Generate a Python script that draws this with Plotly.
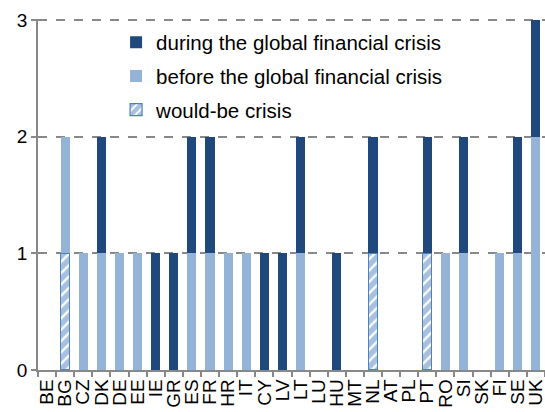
import plotly.graph_objects as go

countries = ["BE","BG","CZ","DK","DE","EE","IE","GR","ES","FR","HR","IT","CY","LV",
             "LT","LU","HU","MT","NL","AT","PL","PT","RO","SI","SK","FI","SE","UK"]
would_be = [0,1,0,0,0,0,0,0,0,0,0,0,0,0, 0,0,0,0,1,0,0,1,0,0,0,0,0,0]
before   = [0,1,1,1,1,1,0,0,1,1,1,1,0,0, 1,0,0,0,0,0,0,0,1,1,0,1,1,2]
during   = [0,0,0,1,0,0,1,1,1,1,0,0,1,1, 1,0,1,0,1,0,0,1,0,1,0,0,1,1]

FONT = "Liberation Sans, Arial, sans-serif"


def nz(vals):
    # hide empty segments so no outline stub is drawn at the baseline
    return [v if v else None for v in vals]


fig = go.Figure()
fig.add_trace(go.Bar(
    x=countries, y=nz(would_be), name="would-be crisis", legendgroup="c", legendrank=3,
    marker=dict(color="white", line=dict(color="#4F81BD", width=1.2),
                pattern=dict(shape="/", fgcolor="#4F81BD", bgcolor="white",
                             size=8, solidity=0.72)),
))
fig.add_trace(go.Bar(
    x=countries, y=nz(before), name="before the global financial crisis", legendgroup="b",
    legendrank=2,
    marker=dict(color="#95B3D7", line=dict(width=0)),
))
fig.add_trace(go.Bar(
    x=countries, y=nz(during), name="during the global financial crisis", legendgroup="a",
    legendrank=1,
    marker=dict(color="#1F497D", line=dict(width=0)),
))

fig.update_layout(
    width=545, height=412,
    barmode="stack", bargap=0.5,
    margin=dict(l=38, r=0, t=19, b=42),
    paper_bgcolor="white", plot_bgcolor="white",
    font=dict(family=FONT, size=19, color="black"),
    legend=dict(x=0.154, y=0.99, xanchor="left", yanchor="top",
                traceorder="grouped", tracegroupgap=4,
                bgcolor="rgba(0,0,0,0)", font=dict(size=20.5),
                itemwidth=30),
    showlegend=True,
)
fig.update_xaxes(
    type="category", tickangle=-90, showgrid=False,
    tickmode="array", tickvals=countries, ticktext=countries,
    showline=True, linecolor="#888888", linewidth=1.5,
    ticks="outside", tickson="boundaries", ticklen=5, tickcolor="#888888",
    tickwidth=1.5, tickfont=dict(size=19),
)
fig.update_yaxes(
    range=[0, 3.01], tickvals=[0, 1, 2, 3], showgrid=True,
    gridcolor="#888888", griddash="dash", gridwidth=1.5,
    showline=True, linecolor="#888888", linewidth=1.5,
    ticks="outside", ticklen=5, tickcolor="#888888", tickwidth=1.5,
    zeroline=False, tickfont=dict(size=19),
)

fig.write_html(
    "out.html",
    config={"displayModeBar": False},
    post_script="document.body.style.margin='0';document.body.style.overflow='hidden';",
)
